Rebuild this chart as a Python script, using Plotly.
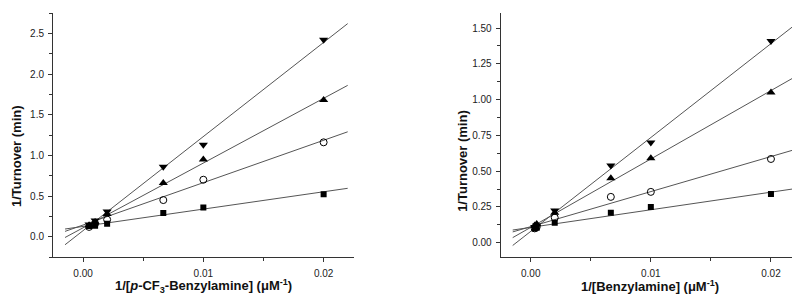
import plotly.graph_objects as go

# ---- data ----
x_cf3 = [0.0005, 0.001, 0.002, 0.00667, 0.01, 0.02]
cf3_down = [0.15, 0.20, 0.31, 0.86, 1.13, 2.42]
cf3_up = [0.14, 0.18, 0.28, 0.66, 0.95, 1.68]
cf3_circle = [0.12, 0.16, 0.21, 0.45, 0.70, 1.16]
cf3_square = [0.13, 0.135, 0.16, 0.29, 0.36, 0.52]
cf3_slopes = [115.7, 79.6, 52.1, 21.3]
cf3_intercepts = [0.074, 0.109, 0.143, 0.126]

x_bz = [0.00033, 0.0005, 0.002, 0.00667, 0.01, 0.02]
bz_down = [0.11, 0.12, 0.225, 0.54, 0.70, 1.41]
bz_up = [0.12, 0.13, 0.21, 0.45, 0.59, 1.05]
bz_circle = [0.10, 0.11, 0.175, 0.32, 0.355, 0.585]
bz_square = [0.10, 0.105, 0.14, 0.21, 0.25, 0.34]
bz_slopes = [65.6, 47.8, 24.5, 12.3]
bz_intercepts = [0.079, 0.107, 0.112, 0.107]

fit_x_range = [-0.0015, 0.022]

x_ticks = [0.0, 0.01, 0.02]
x_ticklabels = ["0.00", "0.01", "0.02"]
left_yticks = [0.0, 0.5, 1.0, 1.5, 2.0, 2.5]
left_yticklabels = ["0.0", "0.5", "1.0", "1.5", "2.0", "2.5"]
right_yticks = [0.0, 0.25, 0.5, 0.75, 1.0, 1.25, 1.5]
right_yticklabels = ["0.00", "0.25", "0.50", "0.75", "1.00", "1.25", "1.50"]

y_title = "<b>1/Turnover (min)</b>"
left_x_title = "<b>1/[<i>p</i>-CF<sub>3</sub>-Benzylamine] (μM<sup>-1</sup>)</b>"
right_x_title = "<b>1/[Benzylamine] (μM<sup>-1</sup>)</b>"

markers = [
    dict(symbol="triangle-down", size=8, color="black"),
    dict(symbol="triangle-up", size=8, color="black"),
    dict(symbol="circle-open", size=7, color="black", line=dict(width=1, color="black")),
    dict(symbol="square", size=6, color="black"),
]

fig = go.Figure()


def add_panel(xs, series, slopes, intercepts, xa, ya):
    for k, b in zip(slopes, intercepts):
        fx = fit_x_range
        fy = [b + k * v for v in fx]
        fig.add_trace(go.Scatter(x=fx, y=fy, mode="lines",
                                 line=dict(color="#555555", width=1),
                                 xaxis=xa, yaxis=ya, showlegend=False,
                                 hoverinfo="skip"))
    for s, mk in zip(series, markers):
        fig.add_trace(go.Scatter(x=xs, y=s, mode="markers", marker=mk,
                                 xaxis=xa, yaxis=ya, showlegend=False))


add_panel(x_cf3, [cf3_down, cf3_up, cf3_circle, cf3_square],
          cf3_slopes, cf3_intercepts, "x", "y")
add_panel(x_bz, [bz_down, bz_up, bz_circle, bz_square],
          bz_slopes, bz_intercepts, "x2", "y2")

tickfont = dict(family="Liberation Sans, Arial", size=10, color="#222222")
titlefont = dict(family="Liberation Sans, Arial", size=13, color="#111111")
axis_common = dict(
    showline=True, linecolor="#333333", linewidth=1, mirror=False,
    showgrid=False, zeroline=False, ticks="outside", ticklen=4,
    tickcolor="#333333", tickfont=tickfont,
)

xcommon = dict(axis_common, range=[-0.0025, 0.0225], tickvals=x_ticks,
               ticktext=x_ticklabels, ticklabelstandoff=3,
               minor=dict(ticks="outside", ticklen=3, dtick=0.005, tick0=0,
                          tickcolor="#333333", showgrid=False))

fig.update_layout(
    width=800, height=296,
    margin=dict(l=45, r=7, t=5, b=47),
    paper_bgcolor="white", plot_bgcolor="white",
    xaxis=dict(xcommon, domain=[0.0, 0.402], anchor="y"),
    yaxis=dict(axis_common, range=[-0.25, 2.75], tickvals=left_yticks,
               ticktext=left_yticklabels, anchor="x", ticklabelstandoff=2,
               minor=dict(ticks="outside", ticklen=3, dtick=0.25, tick0=0,
                          tickcolor="#333333", showgrid=False)),
    xaxis2=dict(xcommon, domain=[0.5985, 1.0], anchor="y2"),
    yaxis2=dict(axis_common, range=[-0.1, 1.605], tickvals=right_yticks,
                ticktext=right_yticklabels, anchor="x2", ticklabelstandoff=2,
                minor=dict(ticks="outside", ticklen=3, dtick=0.125, tick0=0,
                           tickcolor="#333333", showgrid=False)),
)

ann_common = dict(xref="paper", yref="paper", showarrow=False, font=titlefont)
fig.add_annotation(ann_common, text=y_title, textangle=-90,
                   x=(8.3 - 45) / 748, y=0.415, xanchor="center", yanchor="middle")
fig.add_annotation(ann_common, text=y_title, textangle=-90,
                   x=(455 - 45) / 748, y=0.394, xanchor="center", yanchor="middle")
fig.add_annotation(ann_common, text=left_x_title,
                   x=(195.5 - 45) / 748, y=-0.117, xanchor="center", yanchor="middle")
fig.add_annotation(ann_common, text=right_x_title,
                   x=(642 - 45) / 748, y=-0.12, xanchor="center", yanchor="middle")

fig.write_html("out.html")
